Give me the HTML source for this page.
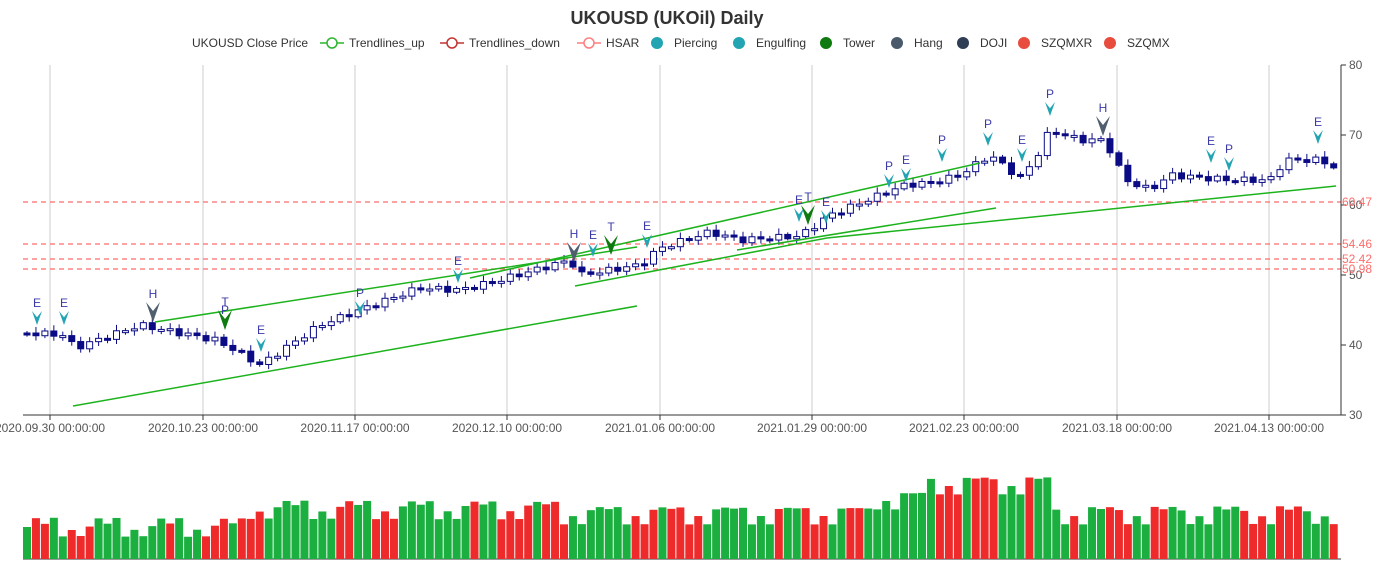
<!DOCTYPE html>
<html><head><meta charset="utf-8"><style>
body{margin:0;background:#fff;}
svg{display:block;font-family:"Liberation Sans",sans-serif;}
</style></head><body>
<svg id="s" width="1398" height="578" xmlns="http://www.w3.org/2000/svg">
<text x="667" y="24" text-anchor="middle" font-size="18" font-weight="bold" fill="#333">UKOUSD (UKOil) Daily</text>
<g font-size="12" fill="#333">
<text x="192" y="47">UKOUSD Close Price</text>
<line x1="320" y1="43" x2="344" y2="43" stroke="#2db52d" stroke-width="1.5"/><circle cx="332" cy="43" r="5" fill="#fff" stroke="#2db52d" stroke-width="1.5"/>
<text x="349" y="47">Trendlines_up</text>
<line x1="440" y1="43" x2="464" y2="43" stroke="#c23531" stroke-width="1.5"/><circle cx="452" cy="43" r="5" fill="#fff" stroke="#c23531" stroke-width="1.5"/>
<text x="469" y="47">Trendlines_down</text>
<line x1="577" y1="43" x2="601" y2="43" stroke="#ff7f7f" stroke-width="1.5"/><circle cx="589" cy="43" r="5" fill="#fff" stroke="#ff7f7f" stroke-width="1.5"/>
<text x="606" y="47">HSAR</text>
<circle cx="657" cy="43" r="6" fill="#22a4b3"/><text x="674" y="47">Piercing</text>
<circle cx="739" cy="43" r="6" fill="#22a4b3"/><text x="756" y="47">Engulfing</text>
<circle cx="826" cy="43" r="6" fill="#0f7a0f"/><text x="843" y="47">Tower</text>
<circle cx="897" cy="43" r="6" fill="#4a5a6a"/><text x="914" y="47">Hang</text>
<circle cx="963" cy="43" r="6" fill="#2f3e55"/><text x="980" y="47">DOJI</text>
<circle cx="1024" cy="43" r="6" fill="#e84c3d"/><text x="1041" y="47">SZQMXR</text>
<circle cx="1110" cy="43" r="6" fill="#e84c3d"/><text x="1127" y="47">SZQMX</text>
</g>
<g id="grid" stroke="#ccc" stroke-width="1"></g>
<g id="hsar" stroke="#ff6b6b" stroke-width="1.2" stroke-dasharray="5,4">
<line x1="23" y1="202" x2="1341" y2="202"/><line x1="23" y1="244" x2="1341" y2="244"/>
<line x1="23" y1="259" x2="1341" y2="259"/><line x1="23" y1="269" x2="1341" y2="269"/>
</g>
<g id="c"></g>
<g stroke="#1db31d" stroke-width="1.5" fill="none">
<line x1="73" y1="406" x2="637" y2="306"/>
<line x1="155" y1="322" x2="637" y2="247"/>
<line x1="470" y1="278" x2="980" y2="163"/>
<line x1="575" y1="286" x2="827" y2="238"/>
<line x1="737" y1="250" x2="996" y2="208"/>
<line x1="827" y1="238" x2="1336" y2="186"/>
</g>
<g id="m"></g>
<g font-size="12" fill="#333">
<line x1="1341" y1="65" x2="1341" y2="415" stroke="#333"/>
<line x1="23" y1="415" x2="1341" y2="415" stroke="#333"/>
<line x1="23" y1="559" x2="1341" y2="559" stroke="#333"/>
</g>
<g id="ax" font-size="12" fill="#555"></g>
<g fill="#ff6b6b" font-size="12">
<text x="1342" y="206">60.47</text><text x="1342" y="248">54.46</text>
<text x="1342" y="263">52.42</text><text x="1342" y="273">50.98</text>
</g>
<g id="v"></g>
</svg>
<script>
(function(){
var NS="http://www.w3.org/2000/svg";
function el(p,t,a,txt){var e=document.createElementNS(NS,t);for(var k in a)e.setAttribute(k,a[k]);if(txt!=null)e.textContent=txt;document.getElementById(p).appendChild(e);return e;}
var gx=[50,203,355,507,660,812,964,1117,1269];
var gl=["2020.09.30 00:00:00","2020.10.23 00:00:00","2020.11.17 00:00:00","2020.12.10 00:00:00","2021.01.06 00:00:00","2021.01.29 00:00:00","2021.02.23 00:00:00","2021.03.18 00:00:00","2021.04.13 00:00:00"];
gx.forEach(function(x,i){el("grid","line",{x1:x,y1:65,x2:x,y2:415});el("ax","line",{x1:x,y1:415,x2:x,y2:420,stroke:"#333"});el("ax","text",{x:x,y:432,"text-anchor":"middle"},gl[i]);});
[80,70,60,50,40,30].forEach(function(v){var y=65+(80-v)*7;el("ax","line",{x1:1341,y1:y,x2:1346,y2:y,stroke:"#333"});el("ax","text",{x:1349,y:y+4},v);});
var kp=[[27,333],[64,335],[75,348],[140,325],[215,340],[235,350],[260,365],[320,325],[400,295],[420,288],[460,290],[500,280],[570,260],[580,275],[640,265],[660,248],[710,232],[740,240],[800,236],[830,215],[880,195],[905,185],[935,182],[960,175],[990,155],[1020,178],[1035,160],[1050,130],[1080,140],[1105,140],[1125,180],[1150,190],[1170,175],[1230,180],[1270,180],[1285,160],[1320,160],[1336,168]];
function py(x){for(var i=0;i<kp.length-1;i++){if(x<=kp[i+1][0]){var t=(x-kp[i][0])/(kp[i+1][0]-kp[i][0]);return kp[i][1]+t*(kp[i+1][1]-kp[i][1]);}}return kp[kp.length-1][1];}
var N=147,prev=py(27);
for(var i=0;i<N;i++){var x=27+8.95*i;var c=py(x)+Math.sin(i*2.3)*3;var o=prev;var up=c<o;
var tp=Math.min(o,c),bt=Math.max(o,c);if(bt-tp<2){bt=tp+2;}
var w=2+Math.abs(Math.sin(i*1.7))*4;
el("c","line",{x1:x,y1:tp-w,x2:x,y2:bt+w*0.8,stroke:"#0b0b85","stroke-width":1});
el("c","rect",{x:x-3,y:tp,width:6,height:bt-tp,fill:up?"#fff":"#0b0b85",stroke:"#0b0b85","stroke-width":1});
prev=c;
var base=i<25?32:(i<60?50:(i<95?45:(i<115?60:45)));
var h=base+Math.sin(i*0.9)*8+Math.sin(i*2.7)*6+(i>100&&i<115?15:0);
var red=(Math.sin(i*1.3)+Math.sin(i*0.37))>0.3;
el("v","rect",{x:x-4,y:559-h,width:8,height:h,fill:red?"#ee2a2a":"#1aaf3f"});}
var mk=[[37,325,"c","E"],[64,325,"c","E"],[153,322,"h","H"],[225,330,"t","T","P"],[261,352,"c","E"],[360,315,"c","P"],[458,283,"c","E"],[574,262,"h","H"],[593,257,"c","E"],[611,255,"t","T"],[647,248,"c","E"],[799,222,"c","E"],[808,225,"t","T"],[826,224,"c","E"],[889,188,"c","P"],[906,182,"c","E"],[942,162,"c","P"],[988,146,"c","P"],[1022,162,"c","E"],[1050,116,"c","P"],[1103,136,"h","H"],[1211,163,"c","E"],[1229,171,"c","P"],[1318,144,"c","E"]];
mk.forEach(function(m){var x=m[0],y=m[1],big=m[2]!="c";var w=big?7:5,h=big?20:14;
var col=m[2]=="c"?"#22a4b3":(m[2]=="t"?"#0f7a0f":"#4f5f6e");
el("m","path",{d:"M"+(x-w)+","+(y-h)+" L"+x+","+y+" L"+(x+w)+","+(y-h)+" L"+x+","+(y-h*0.55)+" Z",fill:col});
el("m","text",{x:x,y:y-h-4,"text-anchor":"middle","font-size":12,fill:"#3a3aa8"},m[3]);
if(m[4])el("m","text",{x:x,y:y-h+4,"text-anchor":"middle","font-size":12,fill:"#3a3aa8"},m[4]);});
})();
</script>
</body></html>
